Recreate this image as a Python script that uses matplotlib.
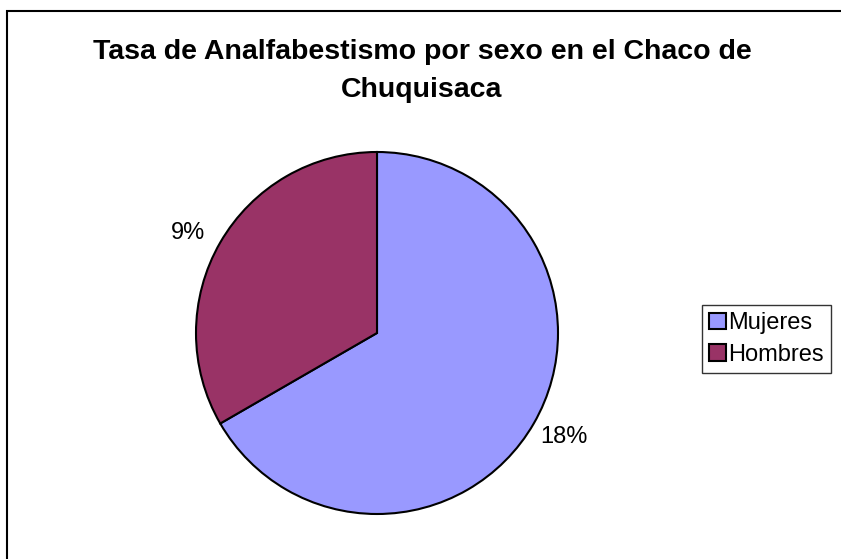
import numpy as np
import matplotlib.pyplot as plt
from matplotlib.patches import Rectangle

plt.rcParams['font.family'] = ['Liberation Sans', 'DejaVu Sans']

categories = ['Mujeres', 'Hombres']
values = [18, 9]
value_labels = ['18%', '9%']
colors = ['#9999FF', '#993366']

W, H = 841, 559
fig = plt.figure(figsize=(W / 100, H / 100), dpi=100)

# outer chart frame (only top and left inside the picture)
fig.patches.append(Rectangle((7 / W, -0.05), 1.0, 1 - 11 / H + 0.05, transform=fig.transFigure,
                             fill=False, edgecolor='black', linewidth=1.5))

fig.text(422 / W, 1 - 52 / H, 'Tasa de Analfabestismo por sexo en el Chaco de',
         ha='center', va='center', fontsize=20.5, fontweight='bold')
fig.text(422 / W, 1 - 90 / H, 'Chuquisaca',
         ha='center', va='center', fontsize=20.5, fontweight='bold')

cx, cy, r = 377, 333, 181
ax = fig.add_axes([(cx - r) / W, (H - cy - r) / H, 2 * r / W, 2 * r / H])
wedges, texts = ax.pie(values, labels=value_labels, colors=colors, startangle=90,
                       counterclock=False, labeldistance=1.18,
                       wedgeprops=dict(edgecolor='black', linewidth=1.5),
                       textprops=dict(fontsize=17))
# label angles a bit off the wedge middle, as in the original
label_angles = [-29, 152]
for t, a in zip(texts, label_angles):
    t.set_position((1.18 * np.cos(np.radians(a)), 1.18 * np.sin(np.radians(a))))
    t.set_ha('center')
    t.set_va('center')
    t.set_clip_on(False)
ax.set_xlim(-1, 1)
ax.set_ylim(-1, 1)
ax.set_aspect('equal')

leg = fig.legend(wedges, categories, loc='upper left', bbox_to_anchor=(702 / W, 1 - 305 / H),
                 fontsize=17, frameon=True, fancybox=False, edgecolor='black',
                 handlelength=0.7, handleheight=0.7, handletextpad=0.1,
                 labelspacing=0.4, borderpad=0.3, borderaxespad=0)
leg.get_frame().set_linewidth(1.0)

fig.savefig('out.png', dpi=100)
